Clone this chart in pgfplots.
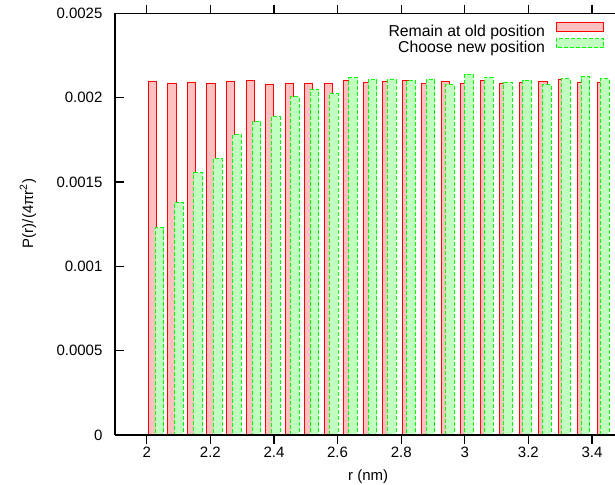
\documentclass[border=0pt]{standalone}
\usepackage{fontspec}
\setmainfont{Liberation Sans}
\usepackage{pgfplots}
\pgfplotsset{compat=1.18}

\definecolor{oldline}{RGB}{255,0,0}
\definecolor{oldfill}{RGB}{255,192,192}
\definecolor{newline}{RGB}{0,255,0}
\definecolor{newfill}{RGB}{192,255,192}

\begin{document}
\fontsize{7.5}{9}\selectfont
\begin{tikzpicture}
\path[use as bounding box] (-57.5pt,-24.5pt) rectangle (250pt,217.5pt);
\begin{axis}[
 at={(0,0)}, anchor=south west,
 scale only axis, width=251.2pt, height=210.85pt,
 xmin=1.9, xmax=3.48, ymin=0, ymax=0.0025,
 axis x line=box, axis y line=left,
 axis line style={-, line width=0.8pt},
 axis on top,
 tick align=inside, major tick length=4.3pt,
 tick style={black, line width=0.6pt},
 xtick={2,2.2,2.4,2.6,2.8,3,3.2,3.4},
 ytick={0,0.0005,0.001,0.0015,0.002,0.0025},
 yticklabels={0,0.0005,0.001,0.0015,0.002,0.0025},
 scaled x ticks=false, scaled y ticks=false,
 /pgf/number format/assume math mode=true,
 x tick label style={anchor=center, yshift=-4.3pt},
 y tick label style={xshift=-3.6pt},
 xlabel={r (nm)},
 ylabel={P(r)/(4πr\textsuperscript{2})},
 every axis x label/.style={at={(axis description cs:0.504,0)}, anchor=center, yshift=-21pt},
 every axis y label/.style={at={(axis description cs:0,0.526)}, xshift=-43.5pt, rotate=90, anchor=center},
 ybar, bar shift=0pt,
 legend image code/.code={\draw[#1] (0pt,0.55pt) rectangle (23.8pt,5.05pt);},
 legend plot pos=right,
 legend cell align=right,
 legend style={draw=none, fill=none, at={(axis description cs:0.9743,1)}, anchor=north east,
  yshift=-4.2pt, inner sep=0pt, outer sep=0pt, row sep=-0.8pt,
  font=\fontsize{7.9}{9.5}\selectfont,
  nodes={inner sep=0pt, text height=5.6pt, text depth=1.7pt},
  /tikz/every odd column/.append style={column sep=5.5pt}},
]
\addplot[draw=oldline, fill=oldfill, line width=0.5pt, bar width=0.0262] coordinates {
 (2.0182,0.002096) (2.0796,0.002085) (2.1410,0.002087) (2.2024,0.002081)
 (2.2638,0.002095) (2.3252,0.002099) (2.3866,0.002077) (2.4480,0.002081)
 (2.5094,0.002081) (2.5708,0.002081) (2.6322,0.002099) (2.6936,0.002087)
 (2.7550,0.002095) (2.8164,0.002099) (2.8778,0.002083) (2.9392,0.002093)
 (3.0006,0.002085) (3.0620,0.002100) (3.1234,0.002083) (3.1848,0.002090)
 (3.2462,0.002095) (3.3076,0.002109) (3.3690,0.002087) (3.4304,0.002090)
};
\addlegendentry{Remain at old position}
\addplot[draw=newline, fill=newfill, line width=0.5pt, dash pattern=on 2pt off 1pt, bar width=0.0275] coordinates {
 (2.0403,0.001229) (2.1012,0.001381) (2.1620,0.001554) (2.2229,0.001639)
 (2.2838,0.001781) (2.3447,0.001856) (2.4055,0.001886) (2.4664,0.002004)
 (2.5273,0.002051) (2.5881,0.002022) (2.6490,0.002118) (2.7099,0.002105)
 (2.7707,0.002106) (2.8316,0.002100) (2.8925,0.002105) (2.9534,0.002077)
 (3.0142,0.002140) (3.0751,0.002120) (3.1360,0.002089) (3.1968,0.002102)
 (3.2577,0.002077) (3.3186,0.002111) (3.3794,0.002124) (3.4403,0.002112)
};
\addlegendentry{Choose new position}
\end{axis}
\end{tikzpicture}
\end{document}
